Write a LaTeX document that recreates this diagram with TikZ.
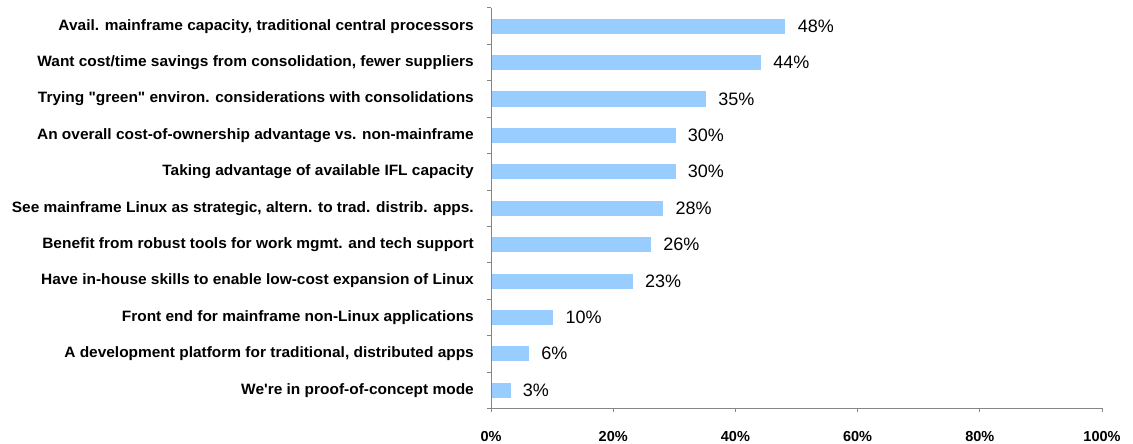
\documentclass[tikz,border=0pt]{standalone}
\usepackage{fontspec}
\setmainfont{Liberation Sans}
\newfontfamily\catfont[FakeStretch=1.03]{Liberation Sans}
\usetikzlibrary{positioning}
\definecolor{barblue}{RGB}{153,204,255}
\definecolor{axisgrey}{RGB}{134,134,134}
\begin{document}
\begin{tikzpicture}[x=1pt, y=-1pt,
    bar/.style={fill=barblue, inner sep=0pt, minimum height=15pt, anchor=west},
    cat/.style={font=\catfont\bfseries\fontsize{15}{17}\selectfont, anchor=east, inner sep=0pt},
    val/.style={font=\fontsize{18}{20}\selectfont, anchor=west, inner sep=0pt},
    pct/.style={font=\bfseries\fontsize{14.5}{16}\selectfont, inner sep=0pt},
    axis/.style={draw=axisgrey, line width=1pt}]
    \useasboundingbox (0,0) rectangle (1133,444);
    % axes
    \coordinate (t) at (491,8);
    \coordinate (o) at (491,408);
    \coordinate (r) at (1102,408);
    \draw[axis] (t) -- (o) -- (r);
    \foreach \k in {0,...,11}
        \draw[axis] (487,8+36.4*\k) -- (491,8+36.4*\k);
    \foreach \k in {0,...,5} {
        \draw[axis] (491+122.2*\k,408) -- (491+122.2*\k,412);
        \node[pct] (x\k) at (491+122.2*\k,437) {\the\numexpr\k*20\relax\%};
    }
    % bars
    \foreach \i/\p/\txt in {
        0/48/{Avail. mainframe capacity, traditional central processors},
        1/44/{Want cost/time savings from consolidation, fewer suppliers},
        2/35/{Trying \symbol{34}green\symbol{34} environ. considerations with consolidations},
        3/30/{An overall cost-of-ownership advantage vs. non-mainframe\ },
        4/30/{Taking advantage of available IFL capacity},
        5/28/{See mainframe Linux as strategic, altern. to trad. distrib. apps.},
        6/26/{Benefit from robust tools for work mgmt. and tech support},
        7/23/{Have in-house skills to enable low-cost expansion of Linux},
        8/10/{Front end for mainframe non-Linux applications},
        9/6/{A development platform for traditional, distributed apps},
        10/3/{We\symbol{39}re in proof-of-concept mode}} {
        \node[bar, minimum width=\p*6.11pt] (b\i) at (492,26.2+36.4*\i) {};
        \node[cat] (c\i) at (474,26.2+36.4*\i) {\txt};
        \node[val, right=12pt of b\i] (v\i) {\p\%};
    }
\end{tikzpicture}
\end{document}
